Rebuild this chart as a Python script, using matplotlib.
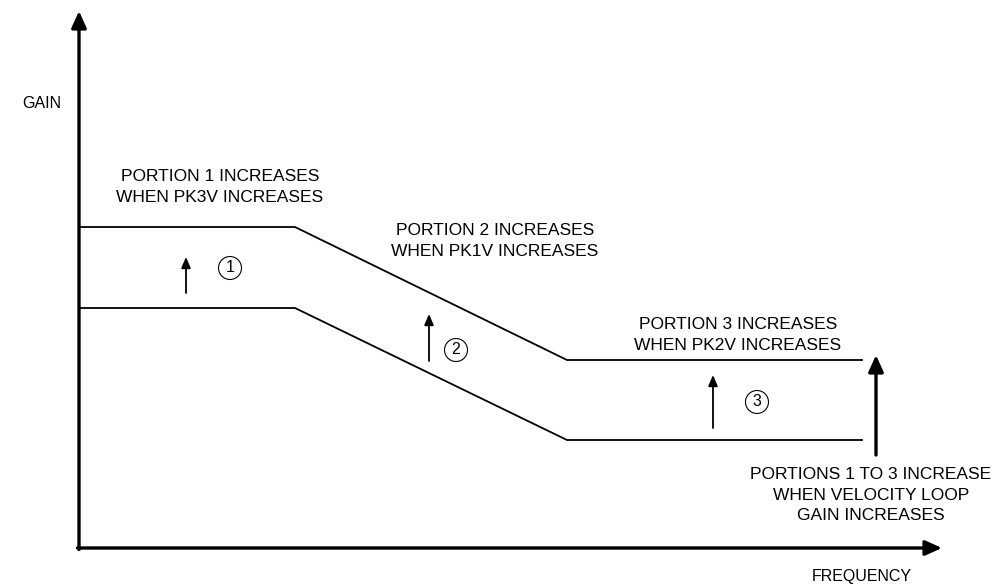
import matplotlib
matplotlib.use("Agg")
import matplotlib.pyplot as plt

plt.rcParams['font.family'] = ['Liberation Sans', 'DejaVu Sans']

# gain curves: breakpoints along the frequency axis
freq_pts = [0, 216, 488, 783]
gain_high = [321, 321, 188, 188]
gain_low = [240, 240, 108, 108]

# small "increase" arrows: x position, start gain, end gain
arrow_x = [107, 350, 634]
arrow_y0 = [255, 187, 120]
arrow_y1 = [291, 234, 173]
circle_labels = ['1', '2', '3']
circle_xy = [(151, 280), (377, 198), (678, 146)]

notes = [
    "PORTION 1 INCREASES\nWHEN PK3V INCREASES",
    "PORTION 2 INCREASES\nWHEN PK1V INCREASES",
    "PORTION 3 INCREASES\nWHEN PK2V INCREASES",
    "PORTIONS 1 TO 3 INCREASE\nWHEN VELOCITY LOOP\nGAIN INCREASES",
]
note_xy = [(141, 361), (416, 307), (659, 213), (792, 53)]

fig = plt.figure(figsize=(9.98, 5.84), dpi=100)
ax = fig.add_axes([0, 0, 1, 1])
ax.set_xlim(-79, 919)
ax.set_ylim(-36, 548)
ax.axis('off')

# axes with arrow heads
head = dict(arrowstyle='-|>,head_length=1.0,head_width=0.45', color='black',
            lw=2.4, shrinkA=0, shrinkB=0)
ax.annotate('', xy=(0, 537), xytext=(0, -1.5), arrowprops=head)
ax.annotate('', xy=(863, 0), xytext=(-1.5, 0), arrowprops=head)

ax.plot(freq_pts, gain_high, color='black', lw=1.3)
ax.plot(freq_pts, gain_low, color='black', lw=1.3)

small = dict(arrowstyle='-|>,head_length=0.65,head_width=0.28', color='black',
             lw=1.3, shrinkA=0, shrinkB=0)
for x, y0, y1 in zip(arrow_x, arrow_y0, arrow_y1):
    ax.annotate('', xy=(x, y1), xytext=(x, y0), arrowprops=small)

for lab, (cx, cy) in zip(circle_labels, circle_xy):
    ax.text(cx, cy, lab, ha='center', va='center', fontsize=11.5,
            bbox=dict(boxstyle='circle,pad=0.25', fc='white', ec='black', lw=0.8))

big = dict(arrowstyle='-|>,head_length=1.0,head_width=0.45', color='black',
           lw=2.4, shrinkA=0, shrinkB=0)
ax.annotate('', xy=(797, 193), xytext=(797, 93), arrowprops=big)

for txt, (tx, ty) in zip(notes, note_xy):
    ax.text(tx, ty, txt, ha='center', va='center', fontsize=12.5, linespacing=1.48)

ax.text(-37, 444, "GAIN", ha='center', va='center', fontsize=11.5)
ax.text(783, -28, "FREQUENCY", ha='center', va='center', fontsize=11.5)

fig.savefig('out.png', dpi=100)
